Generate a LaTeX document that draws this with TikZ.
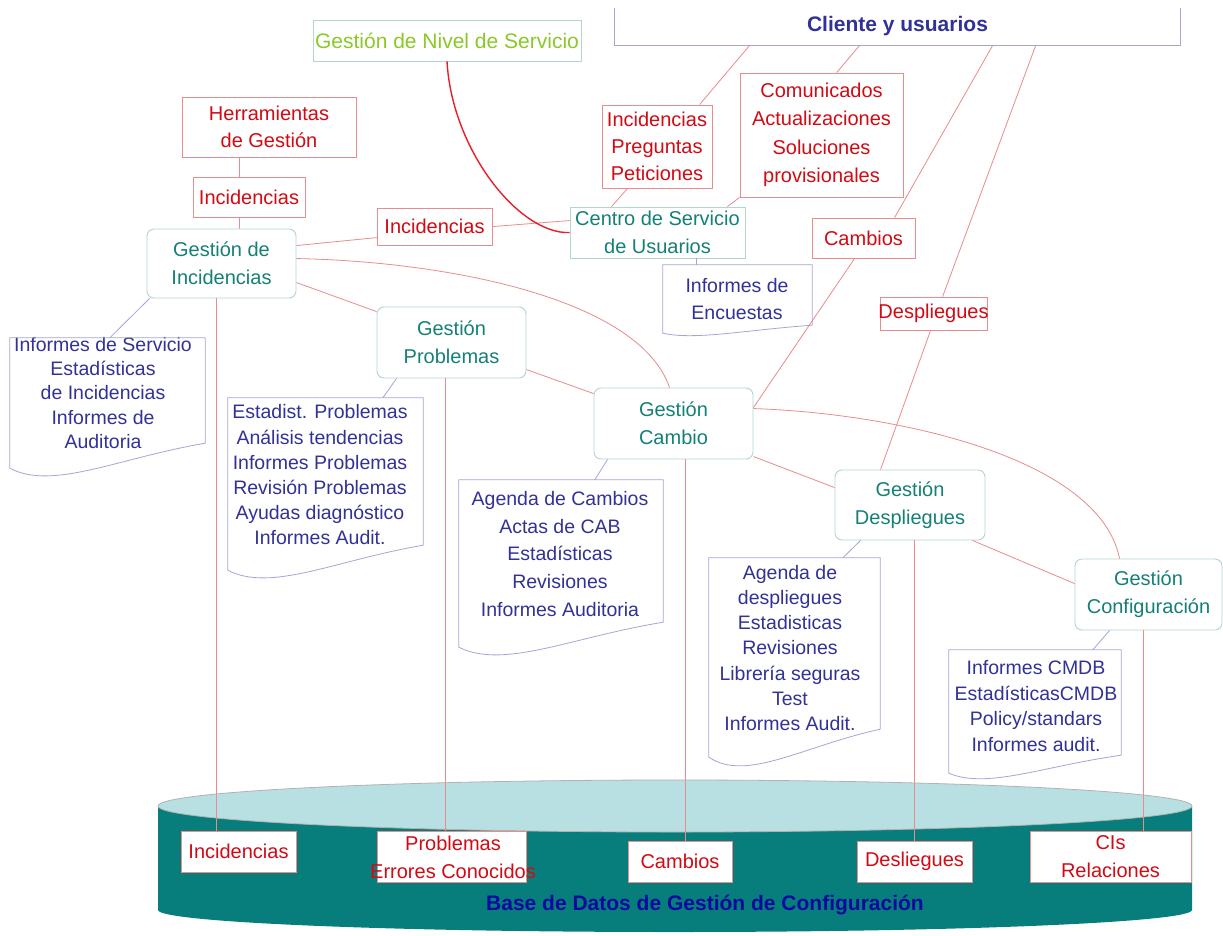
\documentclass[tikz,border=0pt]{standalone}
\usepackage{fontspec}
\setmainfont{Liberation Sans}
\usetikzlibrary{calc}
\definecolor{rtext}{RGB}{210,10,20}
\definecolor{rline}{RGB}{232,140,140}
\definecolor{ttext}{RGB}{20,128,118}
\definecolor{tline}{RGB}{176,214,206}
\definecolor{btext}{RGB}{50,50,150}
\definecolor{bline}{RGB}{165,165,215}
\definecolor{gtext}{RGB}{140,200,40}
\definecolor{curvered}{RGB}{232,30,40}
\definecolor{dbbody}{RGB}{8,126,124}
\definecolor{dbtop}{RGB}{184,224,226}
\definecolor{dbtitle}{RGB}{10,10,160}
\newcommand{\docoutline}[2]{%
  \draw[blink] let \p1=(#1.south west), \p2=(#1.south east), \p3=(#1.north west), \p4=(#1.north east), \n1={\x2-\x1} in
  (\p2) -- (\p4) -- (\p3) -- (\x1,\y1-#2pt) .. controls ({\x1+0.22*\n1},{\y1-1.9*#2pt}) and ({\x1+0.55*\n1},{\y1-0.6*#2pt}) .. (\p2);}
\begin{document}
\begin{tikzpicture}[x=1pt,y=-1pt,
  base/.style={inner sep=0pt, align=center, font=\fontsize{20}{27}\selectfont},
  redbox/.style={base, draw=rline, line width=0.8pt, text=rtext, fill=white},
  redtext/.style={base, text=rtext},
  procbox/.style={base, draw=tline, line width=0.9pt, rounded corners=7pt, text=ttext, fill=white, font=\fontsize{20}{28}\selectfont},
  docbox/.style={inner sep=0pt, draw=none},
  doctext/.style={inner sep=0pt, align=center, text=btext},
  rlink/.style={draw=rline, line width=0.8pt},
  blink/.style={draw=bline, line width=0.8pt},
  slacurve/.style={draw=curvered, line width=1.4pt},
]
\useasboundingbox (0,0) rectangle (1223,935);
\fill[white] (0,0) rectangle (1223,935);

% database cylinder
\fill[dbbody] (158,806) -- (158,910) arc[start angle=180, end angle=0, x radius=517, y radius=22] -- (1192,806) -- cycle;
\filldraw[fill=dbtop, draw=gray!60, line width=0.8pt] (675,806) ellipse [x radius=517, y radius=26];
\node[font=\fontsize{21}{25}\selectfont\bfseries, text=dbtitle, inner sep=0pt] (dbtitle) at (705,905) {Base de Datos de Gestión de Configuración};

% top
\node[base, draw=tline, line width=0.9pt, text=gtext, font=\fontsize{21}{25}\selectfont, minimum width=268pt, minimum height=41pt] (gns) at (447,40.5) {Gestión de Nivel de Servicio};
\node[base, text=btext, font=\fontsize{21}{25}\selectfont\bfseries, minimum width=565pt, minimum height=37pt] (cli) at (897.5,26.5) {Cliente y usuarios};
\draw[blink] (cli.north west) -- (cli.south west) -- (cli.south east) -- (cli.north east);

% red boxes
\node[redbox, minimum width=174pt, minimum height=60pt] (herr) at (269,127) {Herramientas\\de Gestión};
\node[redbox, minimum width=112pt, minimum height=40pt] (inc1) at (249,197) {Incidencias};
\node[redbox, minimum width=115pt, minimum height=37pt] (inc2) at (434.5,226.5) {Incidencias};
\node[redbox, minimum width=110pt, minimum height=83pt] (ipp) at (657,146.5) {Incidencias\\Preguntas\\Peticiones};
\node[redbox, minimum width=163pt, minimum height=124pt, font=\fontsize{20}{28.5}\selectfont] (com) at (821.5,135) {Comunicados\\Actualizaciones\\Soluciones\\provisionales};
\node[redbox, minimum width=103pt, minimum height=40pt] (camb) at (863.5,238) {Cambios};
\node[redbox, minimum width=107pt, minimum height=33pt] (desp) at (933.5,313.5) {};
\node[redtext] (despt) at (desp.center) {Despliegues};

% process boxes
\node[procbox, rounded corners=0pt, minimum width=175pt, minimum height=51pt] (csu) at (657.5,232.5) {Centro de Servicio\\de Usuarios};
\node[procbox, minimum width=149pt, minimum height=69pt] (gi) at (221.5,263.5) {Gestión de\\Incidencias};
\node[procbox, minimum width=149pt, minimum height=71pt] (gp) at (451.5,342.5) {Gestión\\Problemas};
\node[procbox, minimum width=159pt, minimum height=71pt] (gc) at (673.5,423.5) {Gestión\\Cambio};
\node[procbox, minimum width=150pt, minimum height=70pt] (gd) at (910,505) {Gestión\\Despliegues};
\node[procbox, minimum width=147pt, minimum height=71pt] (gcf) at (1148.5,594.5) {Gestión\\Configuración};

% documents
\node[docbox, minimum width=149pt, minimum height=60pt] (dencu) at (737.5,295) {};
\node[doctext, font=\fontsize{19.5}{27}\selectfont] (dencut) at (737,299) {Informes de\\Encuestas};
\docoutline{dencu}{8}
\node[docbox, minimum width=195pt, minimum height=105pt] (dserv) at (107.5,390.5) {};
\node[doctext, font=\fontsize{19.5}{24.3}\selectfont] (dservt) at (103,393) {Informes de Servicio\\Estadísticas\\de Incidencias\\Informes de\\Auditoria};
\docoutline{dserv}{25}
\node[docbox, minimum width=195pt, minimum height=147pt] (dprob) at (325.5,471.5) {};
\node[doctext, font=\fontsize{19.5}{25.2}\selectfont] (dprobt) at (320,475) {Estadist. Problemas\\Análisis tendencias\\Informes Problemas\\Revisión Problemas\\Ayudas diagnóstico\\Informes Audit.};
\docoutline{dprob}{25}
\node[docbox, minimum width=204pt, minimum height=142pt] (dcamb) at (561,551) {};
\node[doctext, font=\fontsize{19.5}{27.7}\selectfont] (dcambt) at (560,554) {Agenda de Cambios\\Actas de CAB\\Estadísticas\\Revisiones\\Informes Auditoria};
\docoutline{dcamb}{25}
\node[docbox, minimum width=171pt, minimum height=171pt] (ddesp) at (794.5,643.5) {};
\node[doctext, font=\fontsize{19.5}{25.3}\selectfont] (ddespt) at (790,648) {Agenda de\\despliegues\\Estadisticas\\Revisiones\\Librería seguras\\Test\\Informes Audit.};
\docoutline{ddesp}{28}
\node[docbox, minimum width=172pt, minimum height=105pt] (dcmdb) at (1035,702.5) {};
\node[doctext, font=\fontsize{19.5}{25.7}\selectfont] (dcmdbt) at (1036,706) {Informes CMDB\\EstadísticasCMDB\\Policy/standars\\Informes audit.};
\docoutline{dcmdb}{18}

% database boxes
\node[redbox, minimum width=115pt, minimum height=41pt] (dbinc) at (238.5,851.5) {Incidencias};
\node[redbox, minimum width=149pt, minimum height=51pt] (dbprob) at (451.5,856.5) {};
\node[redtext, font=\fontsize{20}{28}\selectfont] (dbprobt) at (453,857.5) {Problemas\\Errores Conocidos};
\node[redbox, minimum width=104pt, minimum height=41pt] (dbcamb) at (680,861.5) {Cambios};
\node[redbox, minimum width=115pt, minimum height=41pt] (dbdesl) at (914.5,861.5) {Desliegues};
\node[redbox, minimum width=161pt, minimum height=51pt, font=\fontsize{20}{28}\selectfont] (dbcis) at (1110.5,856.5) {CIs\\Relaciones};

% red links
\draw[rlink] ($(herr.south west)+(58,0)$) -- ($(inc1.north west)+(47,0)$);
\draw[rlink] ($(inc1.south west)+(47,0)$) -- ($(gi.north west)+(93,0)$);
\draw[rlink] ($(gi.north east)+(0,17)$) -- ($(inc2.north west)+(0,30)$);
\draw[rlink] ($(inc2.north east)+(0,19)$) -- ($(csu.north west)+(0,14)$);
\draw[rlink] ($(gi.north east)+(0,30)$) .. controls +(154,3) and +(-30,-88) .. ($(gc.north west)+(76,0)$);
\draw[rlink] ($(gi.north east)+(0,54)$) -- ($(gp.north west)+(0,5)$);
\draw[rlink] ($(gp.north east)+(0,63)$) -- ($(gc.north west)+(0,6)$);
\draw[rlink] ($(gc.north east)+(0,69)$) -- ($(gd.north west)+(0,18)$);
\draw[rlink] ($(gc.north east)+(0,21)$) .. controls +(146,5) and +(-20,-100) .. ($(gcf.north west)+(45,0)$);
\draw[rlink] ($(gd.south east)+(-13,0)$) -- ($(gcf.north west)+(0,25)$);
\draw[rlink] ($(gi.south west)+(70,0)$) coordinate (v1) -- (v1 |- dbinc.north);
\draw[rlink] ($(gp.south west)+(69,0)$) coordinate (v2) -- (v2 |- dbprob.north);
\draw[rlink] ($(gc.south west)+(92,0)$) coordinate (v3) -- (v3 |- dbcamb.north);
\draw[rlink] ($(gd.south west)+(80,0)$) coordinate (v4) -- (v4 |- dbdesl.north);
\draw[rlink] ($(gcf.south west)+(69,0)$) coordinate (v5) -- (v5 |- dbcis.north);
\draw[rlink] ($(cli.south west)+(135,0)$) -- ($(ipp.north west)+(98,0)$);
\draw[rlink] ($(cli.south west)+(245,0)$) -- ($(com.north west)+(97,0)$);
\draw[rlink] ($(cli.south west)+(378,0)$) -- ($(camb.north west)+(83,0)$);
\draw[rlink] ($(camb.south west)+(43,0)$) -- ($(gc.north east)+(0,20)$);
\draw[rlink] ($(cli.south west)+(421,0)$) -- ($(desp.north west)+(63,0)$);
\draw[rlink] ($(desp.south west)+(51,0)$) -- ($(gd.north west)+(46,0)$);
\draw[rlink] ($(ipp.south west)+(26,0)$) -- ($(csu.north west)+(42,0)$);
\draw[rlink] (com.south west) -- ($(csu.north east)+(-18,0)$);
\draw[slacurve] (gns.south) .. controls +(5,89) and +(-50,2) .. ($(csu.north west)+(0,26)$);

% blue links
\draw[blink] ($(csu.south west)+(127,0)$) coordinate (v6) -- (v6 |- dencu.north);
\draw[blink] ($(gi.south west)+(3,0)$) -- ($(dserv.north west)+(100,0)$);
\draw[blink] ($(gp.south west)+(20,0)$) -- ($(dprob.north west)+(155,0)$);
\draw[blink] ($(gc.south west)+(14,0)$) -- ($(dcamb.north west)+(136,0)$);
\draw[blink] ($(gd.south west)+(26,0)$) -- ($(ddesp.north west)+(134,0)$);
\draw[blink] ($(gcf.south west)+(35,0)$) -- ($(dcmdb.north west)+(144,0)$);
\end{tikzpicture}
\end{document}
